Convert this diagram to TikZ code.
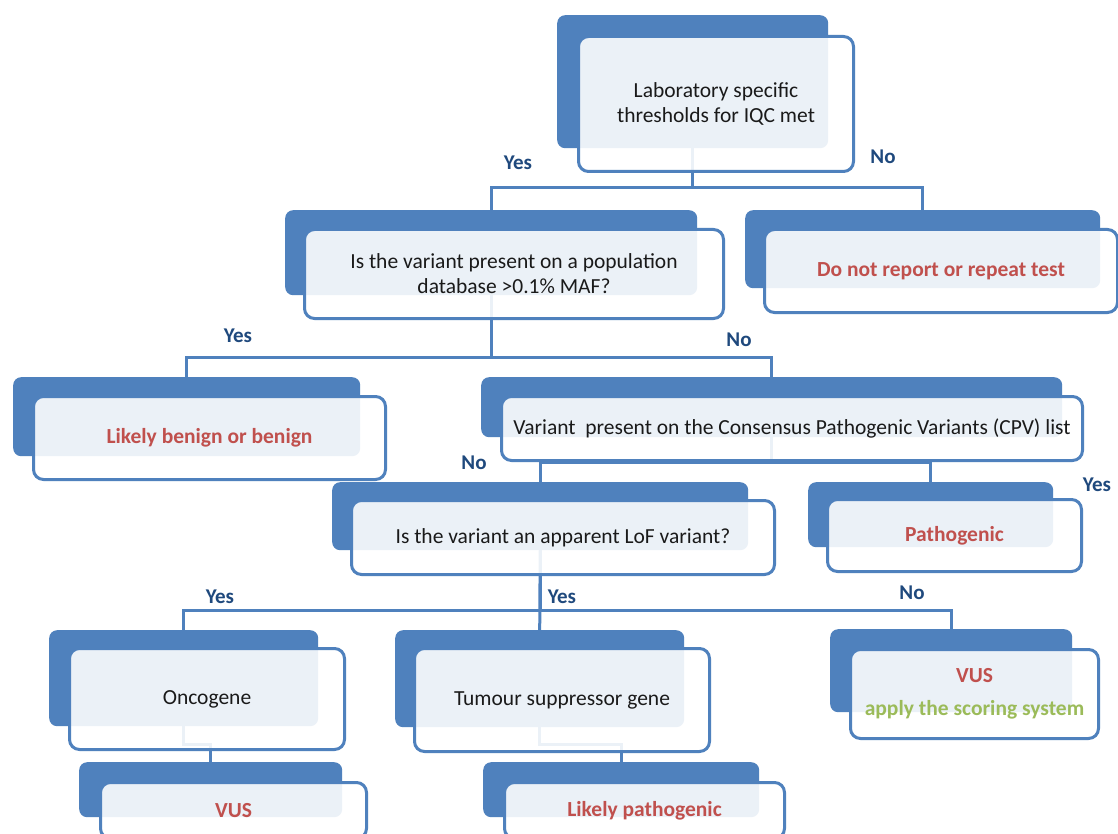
\documentclass[tikz,border=0pt]{standalone}
\usepackage{fontspec}
\setmainfont{Carlito}
\usetikzlibrary{positioning}
\pgfdeclarelayer{bg}
\pgfsetlayers{bg,main}

\definecolor{boxblue}{HTML}{4F81BD}
\definecolor{outred}{HTML}{C0504D}
\definecolor{outgreen}{HTML}{9BBB59}
\definecolor{lblblue}{HTML}{1F497D}
\definecolor{txt}{HTML}{1A1A1A}

\tikzset{
  back/.style={anchor=north west, inner sep=0pt, rounded corners=8pt,
    fill=boxblue},
  front/.style={anchor=north west, inner sep=2pt, rounded corners=10pt,
    draw=boxblue, line width=3pt, fill=white, fill opacity=0.89,
    text opacity=1, align=center, text=txt,
    font=\fontsize{21.5}{25}\selectfont},
  outcome/.style={text=outred, font=\fontsize{21.5}{25}\selectfont\bfseries},
  conn/.style={draw=boxblue, line width=3pt},
  lbl/.style={text=lblblue, font=\fontsize{21}{25}\selectfont\bfseries},
}

\begin{document}
\begin{tikzpicture}[x=1pt, y=-1pt]
\useasboundingbox (0,0) rectangle (1118,834);

% level 0
\node[back, minimum width=271pt, minimum height=133pt] (iqc) at (557,15) {};
\node[front, minimum width=275pt, minimum height=135pt] (iqcT) at (577,35)
  {Laboratory specific\\thresholds for IQC met};

% level 1
\node[back, minimum width=412pt, minimum height=85pt] (pop) at (285,210) {};
\node[front, minimum width=419pt, minimum height=89pt] (popT) at (303,228)
  {Is the variant present on a population\\database >0.1\% MAF?};

\node[back, minimum width=355pt, minimum height=78pt] (norep) at (745,210) {};
\node[front, minimum width=353pt, minimum height=83pt, outcome] (norepT) at (763,228)
  {Do not report or repeat test};

% level 2
\node[back, minimum width=347pt, minimum height=79pt] (benign) at (13,377) {};
\node[front, minimum width=352pt, minimum height=83pt, outcome] (benignT) at (32,395)
  {Likely benign or benign};

\node[back, minimum width=581pt, minimum height=60pt] (cpv) at (481,377) {};
\node[front, minimum width=581pt, minimum height=64pt] (cpvT) at (500,395)
  {Variant\ \ present on the Consensus Pathogenic Variants (CPV) list};

% level 3
\node[back, minimum width=416pt, minimum height=68pt] (lof) at (332,482) {};
\node[front, minimum width=423pt, minimum height=74pt] (lofT) at (350,499)
  {Is the variant an apparent LoF variant?};

\node[back, minimum width=245pt, minimum height=65pt] (patho) at (808,482) {};
\node[front, minimum width=254pt, minimum height=72pt, outcome] (pathoT) at (826,498)
  {Pathogenic};

% level 4
\node[back, minimum width=269pt, minimum height=96pt] (onco) at (49,630) {};
\node[front, minimum width=275pt, minimum height=101pt] (oncoT) at (68,647)
  {Oncogene};

\node[back, minimum width=289pt, minimum height=97pt] (tsg) at (395,630) {};
\node[front, minimum width=295pt, minimum height=103pt] (tsgT) at (413,647)
  {Tumour suppressor gene};

\node[back, minimum width=242pt, minimum height=83pt] (vusb) at (830,629) {};
\node[front, minimum width=248pt, minimum height=89pt] (vusbT) at (849,648)
  {\textcolor{outred}{\bfseries VUS}\\[8pt]\textcolor{outgreen}{\bfseries apply the scoring system}};

% level 5
\node[back, minimum width=263pt, minimum height=55pt] (vusa) at (79,762) {};
\node[front, minimum width=266pt, minimum height=56pt, outcome] (vusaT) at (99,781)
  {VUS};

\node[back, minimum width=276pt, minimum height=55pt] (lp) at (483,762) {};
\node[front, minimum width=280pt, minimum height=56pt, outcome] (lpT) at (503,781)
  {Likely pathogenic};

% branch labels
\node[lbl] (y1) at (518,163) {Yes};
\node[lbl] (n1) at (883,157) {No};
\node[lbl] (y2) at (238,336) {Yes};
\node[lbl] (n2) at (739,340) {No};
\node[lbl] (n3) at (474,463) {No};
\node[lbl] (y3) at (1097,485) {Yes};
\node[lbl] (y4) at (220,597) {Yes};
\node[lbl] (y5) at (562,597) {Yes};
\node[lbl] (n4) at (912,593) {No};

% white page and connectors, kept behind the cards
\begin{pgfonlayer}{bg}
  \fill[white] (0,0) rectangle (1118,834);
  \draw[conn] (pop.north) -- ++(0,-22) -| (iqc.south);
  \draw[conn] (norep.north) -- ++(0,-22) -| (iqc.south);
  \draw[conn] (benign.north) -- ++(0,-20) -| (pop.south);
  \draw[conn] (cpv.north) -- ++(0,-20) -| (pop.south);
  \draw[conn] (lof.north) -- ++(0,-20) -| (cpv.south);
  \draw[conn] (patho.north) -- ++(0,-20) -| (cpv.south);
  \draw[conn] (onco.north) -- ++(0,-20) -| (lof.south);
  \draw[conn] (tsg.north) -- (lof.south);
  \draw[conn] (vusb.north) -- ++(0,-19) -| (lof.south);
  \draw[conn] (vusa.north) -- ++(0,-18) -| (onco.south);
  \draw[conn] (lp.north) -- ++(0,-18) -| (tsg.south);
\end{pgfonlayer}
\end{tikzpicture}
\end{document}
